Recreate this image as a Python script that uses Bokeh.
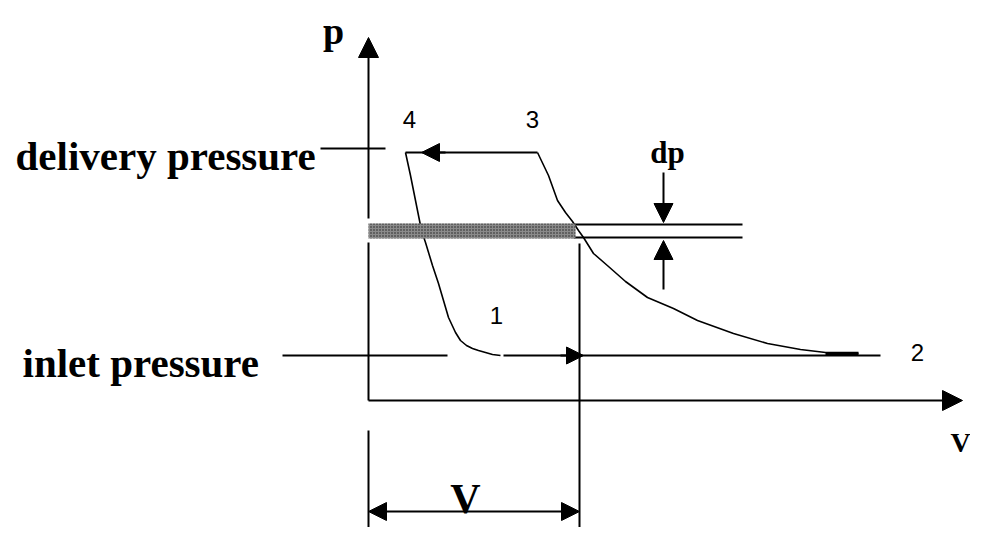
from bokeh.plotting import figure
from bokeh.models import Range1d, Arrow, NormalHead
from bokeh.core.properties import value
from bokeh.embed import file_html
from bokeh.resources import INLINE

# ---------------- diagram data (sketch coordinates, y grows downward) -------------
origin_x, origin_y = 368, 400          # corner of the p and V axes
p_axis_tip = 37                        # top of p axis arrow
v_axis_tip = 962                       # right end of V axis arrow
delivery_p = 152                       # delivery pressure level of the cycle
delivery_ref = 148                     # reference tick for "delivery pressure"
inlet_p = 355                          # inlet pressure level
band_top, band_bottom = 223, 238       # pressure drop band (dp)
band_right = 575
swept_x = 579                          # end of swept volume V
point4_x, point3_x = 405, 537
inlet_ref_x = [282, 447]
inlet_run_x = [503, 880]
dp_lines_right = 742
dp_x = 663
dim_y = 511                            # V dimension line

# re-expansion curve 4 -> 1
curve41_x = [405, 410, 415, 418, 421, 425, 432, 438, 443, 448, 455, 460, 466, 472, 478, 485, 492, 500]
curve41_y = [152, 175, 200, 215, 230, 242, 265, 283, 300, 317, 332, 340, 345, 348, 350, 352, 354, 355]
# compression curve 2 -> 3 (drawn from 3 towards 2)
curve32_x = [537, 548, 557, 565, 572, 578, 583, 593, 608, 625, 647, 673, 697, 733, 767, 800, 825, 858]
curve32_y = [152, 175, 200, 212, 221, 230, 237, 253, 266, 281, 297, 308, 320, 333, 343, 349, 352, 353]

point_labels = ["4", "3", "1", "2"]
point_label_x = [409, 532, 496, 917]
point_label_y = [119, 119, 315, 352]

SERIF = value("Liberation Serif")
SANS = value("Liberation Sans")

p = figure(width=970, height=527, x_range=Range1d(0, 970), y_range=Range1d(527, 0),
           output_backend="svg", toolbar_location=None, min_border=0,
           x_axis_location=None, y_axis_location=None)
p.grid.visible = False
p.outline_line_color = None
p.background_fill_color = "white"
p.border_fill_color = "white"

LW = 2
HEAD = dict(fill_color="black", line_color="black")
# axes (p axis broken at the band)
p.line([origin_x, origin_x], [origin_y, band_bottom + 4], line_color="black", line_width=LW)
p.add_layout(Arrow(end=NormalHead(size=20, **HEAD),
                   x_start=origin_x, y_start=band_top - 5, x_end=origin_x, y_end=p_axis_tip,
                   line_width=LW, line_color="black"))
p.add_layout(Arrow(end=NormalHead(size=20, **HEAD),
                   x_start=origin_x, y_start=origin_y, x_end=v_axis_tip, y_end=origin_y,
                   line_width=LW, line_color="black"))

# vertical guide lines
p.line([origin_x, origin_x], [430, 560], line_color="black", line_width=LW)
p.line([swept_x, swept_x], [band_bottom + 5, 560], line_color="black", line_width=LW)

# V dimension
p.add_layout(Arrow(start=NormalHead(size=18, **HEAD), end=NormalHead(size=18, **HEAD),
                   x_start=origin_x, y_start=dim_y, x_end=swept_x, y_end=dim_y,
                   line_width=LW, line_color="black"))

# delivery pressure reference line
p.line([320, 385], [delivery_ref, delivery_ref], line_color="black", line_width=LW)
# cycle delivery line 3 -> 4
p.line([point4_x, point3_x], [delivery_p, delivery_p], line_color="black", line_width=LW)
p.add_layout(Arrow(end=NormalHead(size=18, **HEAD),
                   x_start=445, y_start=delivery_p, x_end=421, y_end=delivery_p,
                   line_width=LW, line_color="black"))

# inlet pressure lines
p.line(inlet_ref_x, [inlet_p, inlet_p], line_color="black", line_width=LW)
p.line(inlet_run_x, [inlet_p, inlet_p], line_color="black", line_width=LW)
p.add_layout(Arrow(end=NormalHead(size=17, **HEAD),
                   x_start=560, y_start=inlet_p, x_end=583, y_end=inlet_p,
                   line_width=LW, line_color="black"))

# curves
p.line(curve41_x, curve41_y, line_color="black", line_width=1.6)
p.line(curve32_x, curve32_y, line_color="black", line_width=1.6)
p.line(curve32_x[-2:], [curve32_y[-1], curve32_y[-1]], line_color="black", line_width=3.5)

# dp band lines
p.line([573, dp_lines_right], [band_top + 1, band_top + 1], line_color="black", line_width=LW)
p.line([573, dp_lines_right], [band_bottom - 1, band_bottom - 1], line_color="black", line_width=LW)
p.add_layout(Arrow(end=NormalHead(size=19, **HEAD),
                   x_start=dp_x, y_start=172, x_end=dp_x, y_end=band_top - 1,
                   line_width=LW, line_color="black"))
p.add_layout(Arrow(end=NormalHead(size=19, **HEAD),
                   x_start=dp_x, y_start=289, x_end=dp_x, y_end=band_bottom + 2,
                   line_width=LW, line_color="black"))

# hatched band
p.quad(left=[origin_x], right=[band_right], top=[band_top], bottom=[band_bottom],
       fill_color="#8a8a8a", line_color=None,
       hatch_pattern="dot", hatch_color="#202020", hatch_scale=3, hatch_weight=1)

# serif labels
p.text(x=[15], y=[155], text=["delivery pressure"], text_font=SERIF, text_font_style="bold",
       text_font_size="41px", text_align="left", text_baseline="alphabetic", text_color="black")
p.text(x=[22], y=[362], text=["inlet pressure"], text_font=SERIF, text_font_style="bold",
       text_font_size="41px", text_align="left", text_baseline="alphabetic", text_color="black")
p.text(x=[333], y=[30], text=["p"], text_font=SERIF, text_font_style="bold",
       text_font_size="38px", text_align="center", text_baseline="alphabetic", text_color="black")
p.text(x=[667], y=[152], text=["dp"], text_font=SERIF, text_font_style="bold",
       text_font_size="31px", text_align="center", text_baseline="alphabetic", text_color="black")
p.text(x=[465], y=[498], text=["V"], text_font=SERIF, text_font_style="bold",
       text_font_size="42px", text_align="center", text_baseline="alphabetic", text_color="black")
p.text(x=[950], y=[442], text=["V"], text_font=SERIF, text_font_style="bold",
       text_font_size="28px", text_align="left", text_baseline="alphabetic", text_color="black")

# state point numbers
p.text(x=point_label_x, y=point_label_y, text=point_labels, text_font=SANS,
       text_font_size="24px", text_align="center", text_baseline="middle", text_color="black")

open("out.html", "w").write(file_html(p, INLINE))
